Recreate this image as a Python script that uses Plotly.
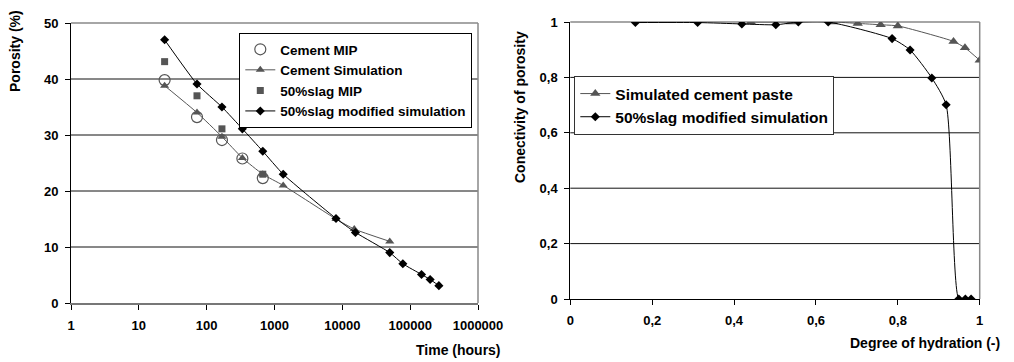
import plotly.graph_objects as go

W, H = 1014, 362
FONT = "Liberation Sans, Arial, sans-serif"

# ---- Left chart data: porosity vs time ----
cem_mip_t = [24, 72, 168, 336, 672]
cem_mip_p = [39.8, 33.2, 29.1, 25.8, 22.3]

cem_sim_t = [24, 72, 168, 336, 672, 1344, 8064, 15000, 50000]
cem_sim_p = [38.8, 34.0, 29.7, 25.9, 23.0, 21.0, 15.0, 13.2, 11.0]

slag_mip_t = [24, 72, 168, 672]
slag_mip_p = [43.1, 37.0, 31.1, 23.0]

slag_sim_t = [24, 72, 168, 336, 672, 1344, 8064, 15600, 50000, 78000, 147000, 197000, 265000]
slag_sim_p = [47.0, 39.1, 35.0, 31.1, 27.1, 23.0, 15.1, 12.6, 9.0, 7.0, 5.1, 4.2, 3.1]

time_ticks = [1, 10, 100, 1000, 10000, 100000, 1000000]
time_tick_text = ["1", "10", "100", "1000", "10000", "100000", "1000000"]
por_ticks = [0, 10, 20, 30, 40, 50]
por_grid = [10, 20, 30, 40]

# ---- Right chart data: connectivity vs degree of hydration ----
cem_paste_a = [0.441, 0.539, 0.642, 0.702, 0.758, 0.800, 0.936, 0.964, 1.000]
cem_paste_c = [1.000, 1.000, 1.000, 0.995, 0.990, 0.986, 0.930, 0.907, 0.862]

slag_a = [0.159, 0.311, 0.419, 0.502, 0.557, 0.630, 0.786, 0.830, 0.883, 0.918, 0.949, 0.965, 0.979]
slag_c = [0.998, 0.998, 0.993, 0.990, 1.000, 1.000, 0.940, 0.899, 0.798, 0.701, 0.0, 0.0, 0.0]

hyd_ticks = [0, 0.2, 0.4, 0.6, 0.8, 1.0]
hyd_tick_text = ["0", "0,2", "0,4", "0,6", "0,8", "1"]
con_ticks = [0, 0.2, 0.4, 0.6, 0.8, 1.0]
con_tick_text = ["0", "0,2", "0,4", "0,6", "0,8", "1"]
con_grid = [0.2, 0.4, 0.6, 0.8]

GRAY = "#555555"

fig = go.Figure()

fig.add_trace(go.Scatter(x=cem_mip_t, y=cem_mip_p, mode="markers", name="Cement MIP",
                         marker=dict(symbol="circle-open", size=11, color=GRAY, line=dict(width=1.2)),
                         xaxis="x", yaxis="y", legend="legend"))
fig.add_trace(go.Scatter(x=cem_sim_t, y=cem_sim_p, mode="lines+markers", name="Cement Simulation",
                         line=dict(color=GRAY, width=1, shape="spline", smoothing=0.5),
                         marker=dict(symbol="triangle-up", size=8, color=GRAY),
                         xaxis="x", yaxis="y", legend="legend"))
fig.add_trace(go.Scatter(x=slag_mip_t, y=slag_mip_p, mode="markers", name="50%slag MIP",
                         marker=dict(symbol="square", size=7, color=GRAY),
                         xaxis="x", yaxis="y", legend="legend"))
fig.add_trace(go.Scatter(x=slag_sim_t, y=slag_sim_p, mode="lines+markers", name="50%slag modified simulation",
                         line=dict(color="black", width=1, shape="spline", smoothing=0.5),
                         marker=dict(symbol="diamond", size=7, color="black"),
                         xaxis="x", yaxis="y", legend="legend"))

fig.add_trace(go.Scatter(x=cem_paste_a, y=cem_paste_c, mode="lines+markers", name="Simulated cement paste",
                         line=dict(color=GRAY, width=1, shape="spline", smoothing=0.5),
                         marker=dict(symbol="triangle-up", size=9, color=GRAY),
                         xaxis="x2", yaxis="y2", legend="legend2"))
fig.add_trace(go.Scatter(x=slag_a, y=slag_c, mode="lines+markers", name="50%slag modified simulation",
                         line=dict(color="black", width=1, shape="spline", smoothing=0.6),
                         marker=dict(symbol="diamond", size=7, color="black"),
                         xaxis="x2", yaxis="y2", legend="legend2"))

def px_x(p):
    return p / W

def px_y(p):
    return 1 - p / H

tickfont = dict(family=FONT, size=13, color="black", weight="bold")

common_axis = dict(automargin=False, zeroline=False, showgrid=False, fixedrange=True,
                   ticks="outside", ticklen=5, tickcolor="black", tickfont=tickfont,
                   ticklabelstandoff=4)

fig.update_layout(
    template="none",
    width=W, height=H, autosize=False,
    margin=dict(l=0, r=0, t=0, b=0, pad=0, autoexpand=False),
    paper_bgcolor="white", plot_bgcolor="white",
    font=dict(family=FONT, color="black"),
    showlegend=True,
    xaxis=dict(domain=[px_x(71), px_x(478)], type="log", range=[0, 6],
               tickvals=time_ticks, ticktext=time_tick_text,
               showline=True, linecolor="#777777", linewidth=2, anchor="y", **common_axis),
    yaxis=dict(domain=[px_y(303), px_y(23)], range=[0, 50], tickvals=por_ticks,
               showline=True, linecolor="black", linewidth=1, anchor="x", **common_axis),
    xaxis2=dict(domain=[px_x(570.3), px_x(979.7)], range=[0, 1],
                tickvals=hyd_ticks, ticktext=hyd_tick_text,
                showline=True, linecolor="black", linewidth=1, anchor="y2", **common_axis),
    yaxis2=dict(domain=[px_y(299), px_y(22)], range=[0, 1],
                tickvals=con_ticks, ticktext=con_tick_text,
                showline=True, linecolor="black", linewidth=1, anchor="x2", **common_axis),
    legend=dict(x=px_x(239.3), y=px_y(33), xanchor="left", yanchor="top",
                bgcolor="white", bordercolor="black", borderwidth=1,
                font=dict(family=FONT, size=13.5, color="black", weight="bold"),
                tracegroupgap=0, itemwidth=30),
    legend2=dict(x=px_x(574.3), y=px_y(76), xanchor="left", yanchor="top",
                 bgcolor="white", bordercolor="#333333", borderwidth=1,
                 font=dict(family=FONT, size=15.5, color="black", weight="bold"),
                 tracegroupgap=0, itemwidth=30),
)

# Horizontal gridlines (dark), drawn below the data
for g in por_grid:
    fig.add_shape(type="line", xref="x domain", yref="y", x0=0, x1=1, y0=g, y1=g,
                  line=dict(color="#111111", width=1), layer="below")
for g in con_grid:
    fig.add_shape(type="line", xref="x2 domain", yref="y2", x0=0, x1=1, y0=g, y1=g,
                  line=dict(color="#111111", width=1), layer="below")

# Gray top and right borders of both plot areas
for xr, yr in (("x domain", "y domain"), ("x2 domain", "y2 domain")):
    fig.add_shape(type="line", xref=xr, yref=yr, x0=0, x1=1, y0=1, y1=1,
                  line=dict(color="#888888", width=1.5), layer="below")
    fig.add_shape(type="line", xref=xr, yref=yr, x0=1, x1=1, y0=0, y1=1,
                  line=dict(color="#888888", width=1.5), layer="below")

titlefont = dict(family=FONT, size=14, color="black", weight="bold")
fig.add_annotation(text="Porosity (%)", xref="paper", yref="paper", x=px_x(15), y=px_y(51),
                   textangle=-90, showarrow=False, font=titlefont, xanchor="center", yanchor="middle")
fig.add_annotation(text="Time (hours)", xref="paper", yref="paper", x=px_x(503), y=px_y(350),
                   showarrow=False, font=titlefont, xanchor="right", yanchor="middle")
fig.add_annotation(text="Conectivity of porosity", xref="paper", yref="paper", x=px_x(520), y=px_y(107),
                   textangle=-90, showarrow=False, font=titlefont, xanchor="center", yanchor="middle")
fig.add_annotation(text="Degree of hydration (-)", xref="paper", yref="paper", x=px_x(1002), y=px_y(343),
                   showarrow=False, font=titlefont, xanchor="right", yanchor="middle")

fig.write_html("out.html")
